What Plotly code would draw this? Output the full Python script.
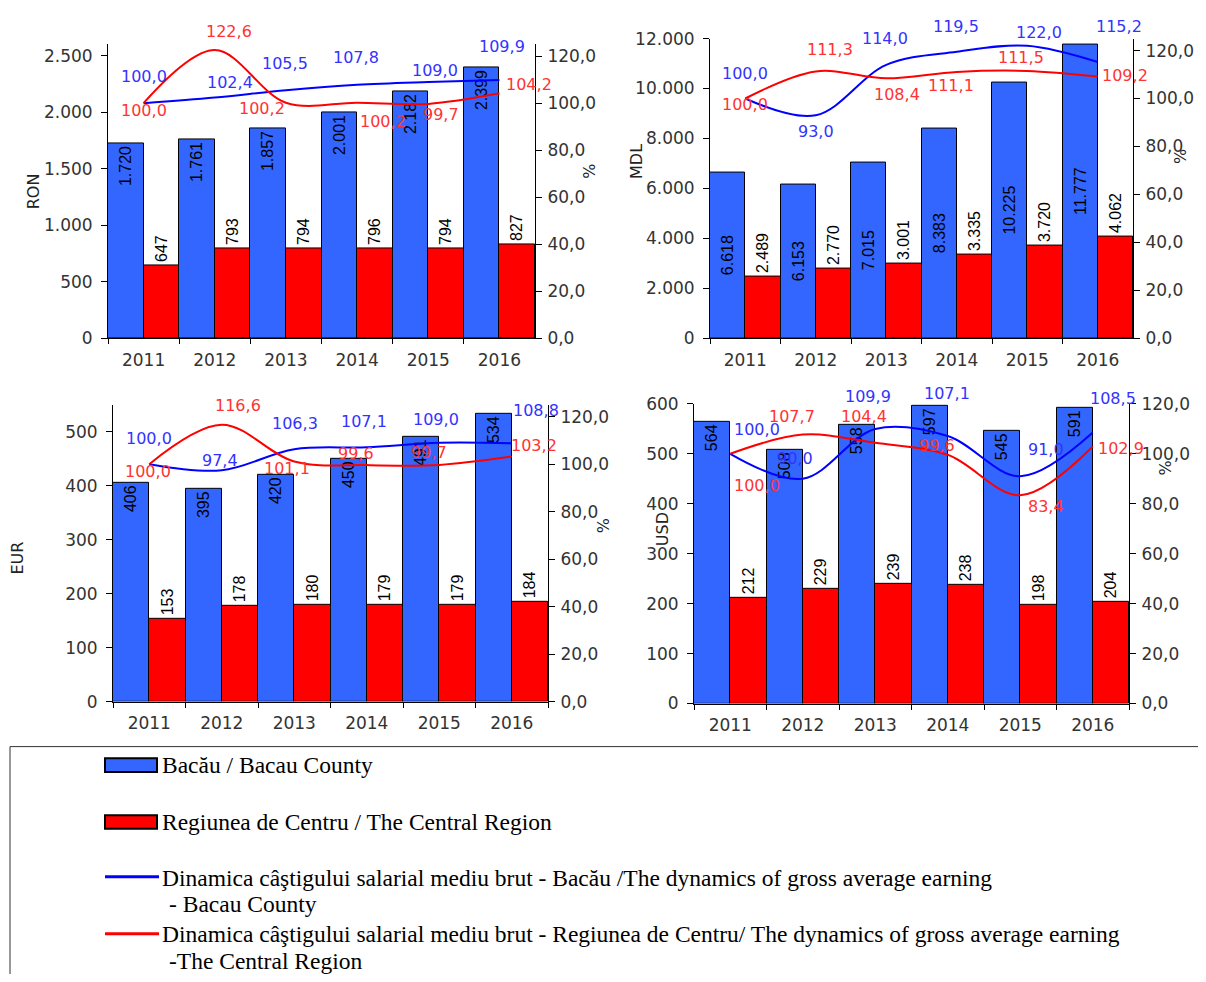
import plotly.graph_objects as go

years = ["2011", "2012", "2013", "2014", "2015", "2016"]

ron_bacau = [1720, 1761, 1857, 2001, 2182, 2399]
ron_centru = [647, 793, 794, 796, 794, 827]
ron_dyn_bacau = [100.0, 102.4, 105.5, 107.8, 109.0, 109.9]
ron_dyn_centru = [100.0, 122.6, 100.2, 100.2, 99.7, 104.2]

mdl_bacau = [6618, 6153, 7015, 8383, 10225, 11777]
mdl_centru = [2489, 2770, 3001, 3335, 3720, 4062]
mdl_dyn_bacau = [100.0, 93.0, 114.0, 119.5, 122.0, 115.2]
mdl_dyn_centru = [100.0, 111.3, 108.4, 111.1, 111.5, 109.2]

eur_bacau = [406, 395, 420, 450, 491, 534]
eur_centru = [153, 178, 180, 179, 179, 184]
eur_dyn_bacau = [100.0, 97.4, 106.3, 107.1, 109.0, 108.8]
eur_dyn_centru = [100.0, 116.6, 101.1, 99.6, 99.7, 103.2]

usd_bacau = [564, 508, 558, 597, 545, 591]
usd_centru = [212, 229, 239, 238, 198, 204]
usd_dyn_bacau = [100.0, 90.0, 109.9, 107.1, 91.0, 108.5]
usd_dyn_centru = [100.0, 107.7, 104.4, 99.6, 83.4, 102.9]

legend_names = [
    "Bacău / Bacau County",
    "Regiunea de Centru / The Central Region",
    "Dinamica câştigului salarial mediu brut - Bacău /The dynamics of gross average earning",
    "- Bacau County",
    "Dinamica câştigului salarial mediu brut - Regiunea de Centru/ The dynamics of gross average earning",
    "-The Central Region",
]

# the page body has an 8px margin: size the figure to fit, map reference pixels to paper
OFF = 8
W, H = 1206 - 2 * OFF, 982 - 2 * OFF
def px(x): return (x - OFF) / W
def py(y): return 1 - (y - OFF) / H

BLUE_BAR = "#3366FF"
RED_BAR = "#FF0000"
BLUE_LINE = "#0000FF"
RED_LINE = "#FF0000"
SANS = "DejaVu Sans, Verdana, sans-serif"
BARFONT = "Liberation Sans, Arial, sans-serif"
SERIF = "Liberation Serif, Times New Roman, serif"

# label offsets (dx, dy in screen pixels, dy down) for the dynamics labels
panels = [
    dict(data=(ron_bacau, ron_centru, ron_dyn_bacau, ron_dyn_centru), xd=(108, 535), yd=(35, 335), lr=2600, rr=125, dt=500,
         anchor="end",
         boff=[(0, -27), (15, -15), (-1, -27), (-1, -27), (7, -12), (3, -33)],
         roff=[(0, 7), (14, -19), (-24, 6), (26, 19), (13, 11), (30, -9)]),
    dict(data=(mdl_bacau, mdl_centru, mdl_dyn_bacau, mdl_dyn_centru), xd=(710, 1133), yd=(29, 335), lr=12000, rr=125, dt=2000,
         anchor="middle",
         boff=[(0, -25), (0, 16), (-1, -26), (-1, -25), (12, -13), (21, -36)],
         roff=[(0, 6), (14, -22), (11, 16), (-6, 14), (-6, -13), (27, -1)]),
    dict(data=(eur_bacau, eur_centru, eur_dyn_bacau, eur_dyn_centru), xd=(113, 548), yd=(403, 706), lr=550, rr=125, dt=100,
         anchor="end",
         boff=[(0, -26), (-2, -10), (1, -26), (-3, -26), (-3, -23), (24, -33)],
         roff=[(-1, 7), (16, -19), (-7, 7), (-11, -12), (-10, -12), (22, -11)]),
    dict(data=(usd_bacau, usd_centru, usd_dyn_bacau, usd_dyn_centru), xd=(694, 1129), yd=(402, 708), lr=600, rr=120, dt=100,
         anchor="end",
         boff=[(27, -24), (-8, -20), (-7, -33), (-1, -43), (26, -27), (20, -34)],
         roff=[(27, 32), (-11, -18), (-11, -26), (-11, -9), (26, 11), (28, 2)]),
]

def fmt1(v):
    return f"{v:.1f}".replace(".", ",")

fig = go.Figure()
layout = {}
annotations = []
tickfont = dict(family=SANS, size=17, color="#333333")
for i, p in enumerate(panels):
    xa = "x" if i == 0 else f"x{i+1}"
    yl = "y" if i == 0 else f"y{4*i+1}"
    yr = f"y{4*i+2}"
    xkey = "xaxis" if i == 0 else f"xaxis{i+1}"
    ylkey = "yaxis" if i == 0 else f"yaxis{4*i+1}"
    yrkey = f"yaxis{4*i+2}"
    ylin = f"yaxis{4*i+3}"
    yrin = f"yaxis{4*i+4}"
    b, r, db, dr = p["data"]
    fig.add_trace(go.Bar(x=years, y=b, xaxis=xa, yaxis=yl, marker=dict(color=BLUE_BAR, line=dict(color="black", width=1)),
                         texttemplate="%{y:,}", textposition="inside", insidetextanchor=p["anchor"], textangle=-90,
                         insidetextfont=dict(family=BARFONT, size=16, color="black"), constraintext="none",
                         offsetgroup="b", showlegend=False, hoverinfo="skip", cliponaxis=False))
    fig.add_trace(go.Bar(x=years, y=r, xaxis=xa, yaxis=yl, marker=dict(color=RED_BAR, line=dict(color="black", width=1)),
                         texttemplate="%{y:,}", textposition="outside", textangle=-90,
                         outsidetextfont=dict(family=BARFONT, size=16, color="black"), constraintext="none",
                         offsetgroup="r", showlegend=False, hoverinfo="skip", cliponaxis=False))
    fig.add_trace(go.Scatter(x=years, y=db, xaxis=xa, yaxis=yr, mode="lines", line=dict(color=BLUE_LINE, width=2, shape="spline"),
                             showlegend=False, hoverinfo="skip", cliponaxis=False))
    fig.add_trace(go.Scatter(x=years, y=dr, xaxis=xa, yaxis=yr, mode="lines", line=dict(color=RED_LINE, width=2, shape="spline"),
                             showlegend=False, hoverinfo="skip", cliponaxis=False))
    for vals, offs, col in ((db, p["boff"], "#3333FF"), (dr, p["roff"], "#FF3333")):
        for j, (v, (dx, dy)) in enumerate(zip(vals, offs)):
            # on a category axis the annotation x is the category index
            annotations.append(dict(text=fmt1(v), x=j, y=v, xref=xa, yref=yr, showarrow=False,
                                    xshift=dx, yshift=-dy, xanchor="center", yanchor="middle",
                                    font=dict(family=SANS, size=16, color=col)))
    dom_y = [py(p["yd"][1]), py(p["yd"][0])]
    layout[xkey] = dict(domain=[px(p["xd"][0]), px(p["xd"][1])], anchor=yl, type="category", range=[-0.5, len(years) - 0.5],
                        categoryorder="array", categoryarray=years,
                        showline=True, linecolor="black",
                        linewidth=1, ticks="outside", ticklen=5, tickson="boundaries", tickcolor="black", tickfont=tickfont,
                        ticklabelstandoff=6, tickangle=0, showgrid=False, zeroline=False, fixedrange=True)
    layout[ylkey] = dict(domain=dom_y, anchor=xa, range=[0, p["lr"]], dtick=p["dt"], tickformat=",d",
                         showline=True, linecolor="black", linewidth=1, ticks="outside", ticklen=6, tickcolor="black",
                         tickfont=tickfont, ticklabelstandoff=5, showgrid=False, zeroline=False, fixedrange=True)
    layout[yrkey] = dict(domain=dom_y, anchor=xa, overlaying=yl, side="right", range=[0, p["rr"]],
                         dtick=20, tickformat=".1f", showline=True, linecolor="black", linewidth=1, ticks="outside", ticklen=6,
                         tickcolor="black", tickfont=tickfont, ticklabelstandoff=2, showgrid=False, zeroline=False,
                         fixedrange=True)
    # inner halves of the crossing tick marks
    layout[ylin] = dict(domain=dom_y, anchor=xa, overlaying=yl, side="left", range=[0, p["lr"]], dtick=p["dt"],
                        ticks="inside", ticklen=4, tickcolor="black", showticklabels=False, showline=False,
                        showgrid=False, zeroline=False, fixedrange=True)
    layout[yrin] = dict(domain=dom_y, anchor=xa, overlaying=yl, side="right", range=[0, p["rr"]], dtick=20,
                        ticks="inside", ticklen=4, tickcolor="black", showticklabels=False, showline=False,
                        showgrid=False, zeroline=False, fixedrange=True)

titles = [("RON", 33, 185), ("%", 590, 165), ("MDL", 637, 155), ("%", 1180, 150),
          ("EUR", 18, 560), ("%", 603, 527), ("USD", 662, 530), ("%", 1165, 468)]
for t, x, y in titles:
    annotations.append(dict(text=t, x=px(x), y=py(y), xref="paper", yref="paper", showarrow=False, textangle=-90,
                            font=dict(family=SANS, size=16, color="#222222"), xanchor="center", yanchor="middle"))

shapes = [dict(type="rect", xref="paper", yref="paper", x0=px(10), x1=px(1215), y0=py(995), y1=py(752),
               line=dict(color="#333333", width=1), fillcolor="rgba(0,0,0,0)")]
shapes.append(dict(type="rect", xref="paper", yref="paper", x0=px(105), x1=px(157), y0=py(778), y1=py(764),
                   line=dict(color="black", width=2), fillcolor=BLUE_BAR))
shapes.append(dict(type="rect", xref="paper", yref="paper", x0=px(105), x1=px(157), y0=py(836), y1=py(822),
                   line=dict(color="black", width=2), fillcolor=RED_BAR))
shapes.append(dict(type="line", xref="paper", yref="paper", x0=px(105), x1=px(159), y0=py(885), y1=py(885),
                   line=dict(color=BLUE_LINE, width=3)))
shapes.append(dict(type="line", xref="paper", yref="paper", x0=px(105), x1=px(159), y0=py(943), y1=py(943),
                   line=dict(color=RED_LINE, width=3)))
leg_pos = [(160, 771), (160, 829), (160, 886), (167, 913), (160, 943), (167, 971)]
for name, (x, y) in zip(legend_names, leg_pos):
    annotations.append(dict(text=name, x=px(x), y=py(y), xref="paper", yref="paper", showarrow=False,
                            font=dict(family=SERIF, size=23.5, color="black"), xanchor="left", yanchor="middle"))

fig.update_layout(**layout)
fig.update_layout(width=W, height=H, margin=dict(l=0, r=0, t=0, b=0), paper_bgcolor="white", plot_bgcolor="white",
                  barmode="group", bargap=0, bargroupgap=0, separators=",.", showlegend=False,
                  annotations=annotations, shapes=shapes, font=dict(family=SANS))

fig.write_html("out.html", config={"displayModeBar": False})
